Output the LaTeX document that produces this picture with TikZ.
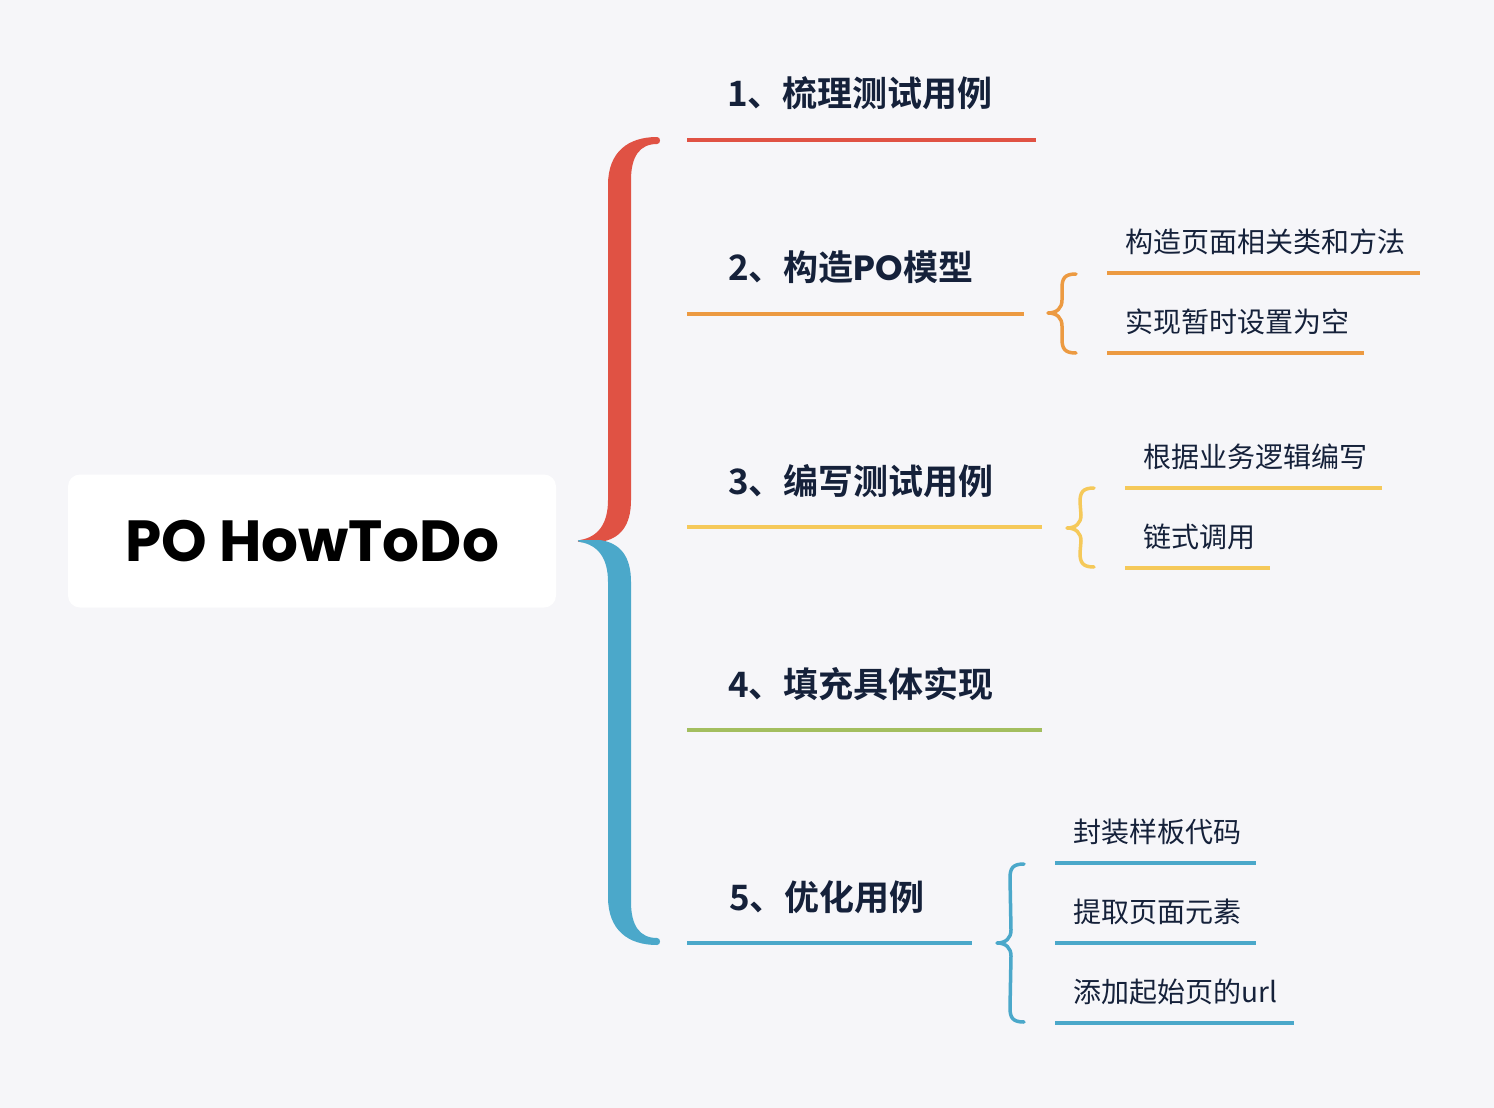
\documentclass[tikz,border=0pt]{standalone}
\usepackage{fontspec}
\setmainfont{Noto Sans CJK SC}[BoldFont={Noto Sans CJK SC Bold}]
\newfontfamily\rootfont{Poppins}[BoldFont={Poppins Bold}]
\usetikzlibrary{calc, positioning}

\definecolor{cBg}{HTML}{F6F6F9}
\definecolor{cText}{HTML}{15213A}
\definecolor{cRed}{HTML}{E05244}
\definecolor{cOrange}{HTML}{EC9A42}
\definecolor{cYellow}{HTML}{F5C95A}
\definecolor{cGreen}{HTML}{A3BE5F}
\definecolor{cBlue}{HTML}{4BA8CA}

\tikzset{
    my-root/.style={
        fill=white, rounded corners=12pt, minimum width=488pt, minimum height=133pt,
        inner sep=0pt, font=\rootfont\bfseries\fontsize{58}{66}\selectfont, text=black
    },
    my-topic/.style={
        anchor=west, inner sep=0pt, text=cText, font=\bfseries\fontsize{35}{40}\selectfont
    },
    my-sub/.style={
        anchor=west, inner sep=0pt, text=cText, font=\fontsize{28}{32}\selectfont
    },
    my-line/.style={
        line width=3.5pt
    },
    my-brace/.style={
        line width=3.5pt, line cap=round, line join=round
    },
}

% small curly brace: colour, top end, tip, bottom end
\newcommand{\subbrace}[4]{%
    \draw[my-brace, #1] (#2) .. controls +(-11,0) and +(0,-10) .. ($(#2)+(-14,14)$)
        -- ($(#3)+(14,-13)$) .. controls +(0,8) and +(9,0) .. (#3)
        .. controls +(9,0) and +(0,-8) .. ($(#3)+(14,13)$)
        -- ($(#4)+(-14,-14)$) .. controls +(0,10) and +(-11,0) .. (#4);%
}

\begin{document}
\begin{tikzpicture}[x=1pt, y=-1pt]

        % BACKGROUND ----------------------------------------------------------------------------------
        \fill[cBg] (0,0) rectangle (1494,1108);
        \useasboundingbox (0,0) rectangle (1494,1108);

        % ROOT
        \node[my-root] (ROOT) at (312,541) {PO HowToDo};

        % MAIN BRACE - RED (TOP) AND BLUE (BOTTOM)
        \coordinate (TIP) at (580,541);
        \fill[cRed] (657,137) .. controls (628,137) and (608,152) .. (608,185) -- (608,500)
            .. controls (608,524) and (598,537) .. (580,540) .. controls (577,541) and (577,542) .. (581,542)
            -- (600,542) .. controls (620,539) and (631,526) .. (631,500) -- (631,180)
            .. controls (631,156) and (640,144) .. (657,144) .. controls (661,144) and (661,137) .. (657,137) -- cycle;
        \fill[cBlue] (657,945) .. controls (628,945) and (608,930) .. (608,897) -- (608,582)
            .. controls (608,558) and (598,545) .. (580,542) .. controls (577,541) and (577,540) .. (581,540)
            -- (600,540) .. controls (620,543) and (631,556) .. (631,582) -- (631,902)
            .. controls (631,926) and (640,938) .. (657,938) .. controls (661,938) and (661,945) .. (657,945) -- cycle;

        % TOPICS --------------------------------------------------------------------------------------
        \node[my-topic] (T1) at (727,93)  {1、梳理测试用例};
        \node[my-topic] (T2) at (728,267) {2、构造{\rootfont\bfseries PO}模型};
        \node[my-topic] (T3) at (728,481) {3、编写测试用例};
        \node[my-topic] (T4) at (728,684) {4、填充具体实现};
        \node[my-topic] (T5) at (729,897) {5、优化用例};

        % TOPIC UNDERLINES
        \coordinate (T1L) at (687,140); \coordinate (T1R) at (1036,140);
        \coordinate (T2L) at (687,314); \coordinate (T2R) at (1024,314);
        \coordinate (T3L) at (687,527); \coordinate (T3R) at (1042,527);
        \coordinate (T4L) at (687,730); \coordinate (T4R) at (1042,730);
        \coordinate (T5L) at (687,943); \coordinate (T5R) at (972,943);
        \draw[my-line, cRed]    (T1L) -- (T1R);
        \draw[my-line, cOrange] (T2L) -- (T2R);
        \draw[my-line, cYellow] (T3L) -- (T3R);
        \draw[my-line, cGreen]  (T4L) -- (T4R);
        \draw[my-line, cBlue]   (T5L) -- (T5R);

        % SUBTOPICS - 2 -------------------------------------------------------------------------------
        \node[my-sub] (S2A) at (1125,242) {构造页面相关类和方法};
        \node[my-sub] (S2B) at (1125,322) {实现暂时设置为空};
        \coordinate (S2AL) at (1107,273); \coordinate (S2AR) at (1420,273);
        \coordinate (S2BL) at (1107,353); \coordinate (S2BR) at (1364,353);
        \draw[my-line, cOrange] (S2AL) -- (S2AR);
        \draw[my-line, cOrange] (S2BL) -- (S2BR);
        \coordinate (B2TOP) at (1076,274); \coordinate (B2TIP) at (1048,313); \coordinate (B2BOT) at (1076,353);
        \subbrace{cOrange}{B2TOP}{B2TIP}{B2BOT}

        % SUBTOPICS - 3
        \node[my-sub] (S3A) at (1143,457) {根据业务逻辑编写};
        \node[my-sub] (S3B) at (1143,537) {链式调用};
        \coordinate (S3AL) at (1125,488); \coordinate (S3AR) at (1382,488);
        \coordinate (S3BL) at (1125,568); \coordinate (S3BR) at (1270,568);
        \draw[my-line, cYellow] (S3AL) -- (S3AR);
        \draw[my-line, cYellow] (S3BL) -- (S3BR);
        \coordinate (B3TOP) at (1094,488); \coordinate (B3TIP) at (1067,528); \coordinate (B3BOT) at (1094,567);
        \subbrace{cYellow}{B3TOP}{B3TIP}{B3BOT}

        % SUBTOPICS - 5
        \node[my-sub] (S5A) at (1073,832) {封装样板代码};
        \node[my-sub] (S5B) at (1073,912) {提取页面元素};
        \node[my-sub] (S5C) at (1073,992) {添加起始页的url};
        \coordinate (S5AL) at (1055,863);  \coordinate (S5AR) at (1256,863);
        \coordinate (S5BL) at (1055,943);  \coordinate (S5BR) at (1256,943);
        \coordinate (S5CL) at (1055,1023); \coordinate (S5CR) at (1294,1023);
        \draw[my-line, cBlue] (S5AL) -- (S5AR);
        \draw[my-line, cBlue] (S5BL) -- (S5BR);
        \draw[my-line, cBlue] (S5CL) -- (S5CR);
        \coordinate (B5TOP) at (1024,864); \coordinate (B5TIP) at (997,943); \coordinate (B5BOT) at (1024,1022);
        \subbrace{cBlue}{B5TOP}{B5TIP}{B5BOT}

\end{tikzpicture}
\end{document}
